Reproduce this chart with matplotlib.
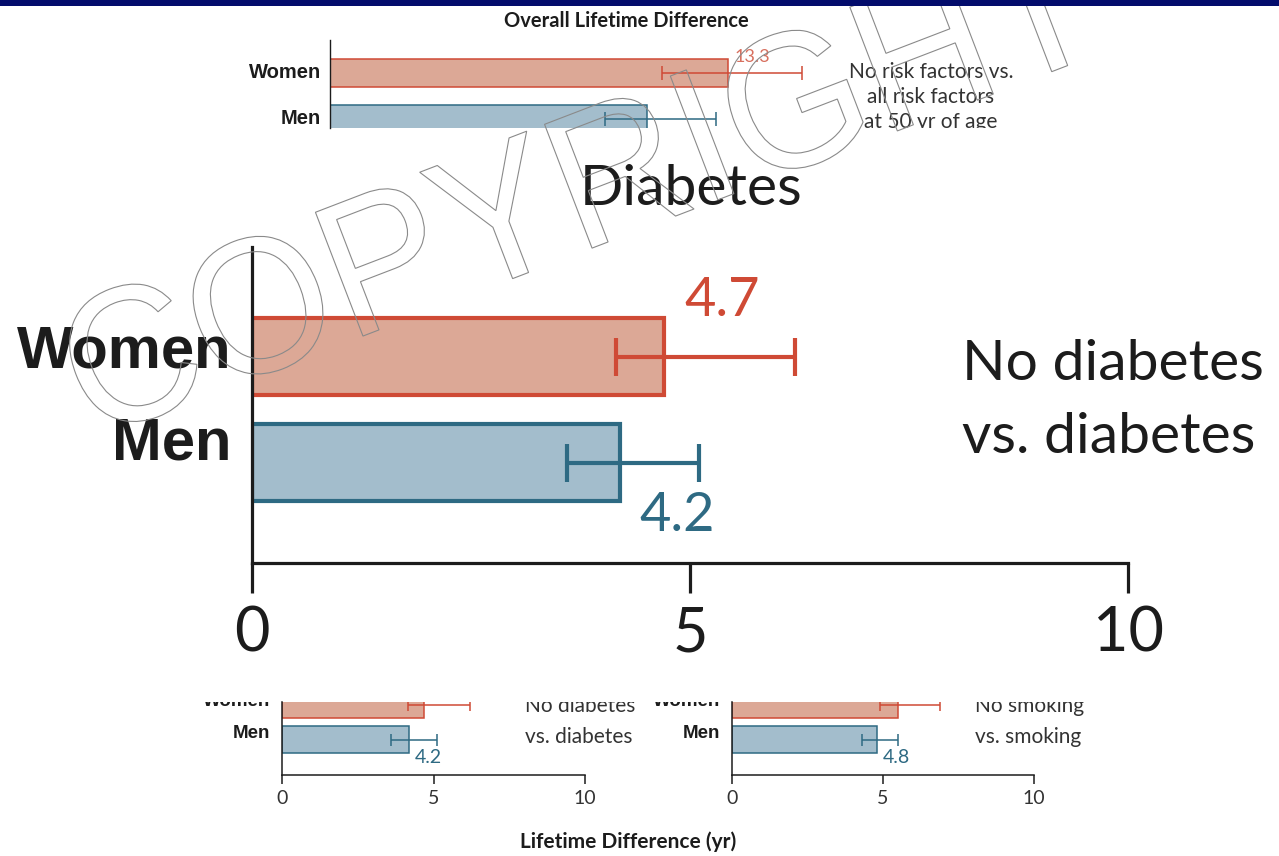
import matplotlib
matplotlib.use("Agg")
import numpy as np
import matplotlib.pyplot as plt
from matplotlib.patches import Rectangle, PathPatch
from matplotlib.textpath import TextPath
from matplotlib.font_manager import FontProperties
from matplotlib.transforms import Affine2D, Bbox, TransformedBbox, IdentityTransform

# ---- data -------------------------------------------------------------
groups = ["Women", "Men"]

overall_est = [13.3, 10.6]
overall_lo = [11.1, 9.2]
overall_hi = [15.8, 12.9]

diabetes_est = [4.7, 4.2]
diabetes_lo = [4.15, 3.6]
diabetes_hi = [6.2, 5.1]

smoking_est = [5.5, 4.8]
smoking_lo = [4.9, 4.3]
smoking_hi = [6.9, 5.5]

x_ticks = [0, 5, 10]

overall_title = "Overall Lifetime Difference"
overall_note = "No risk factors vs.\nall risk factors\nat 50 yr of age"
diabetes_title = "Diabetes"
diabetes_note = ["No diabetes", "vs. diabetes"]
smoking_note = ["No smoking", "vs. smoking"]
x_label = "Lifetime Difference (yr)"

# ---- style ------------------------------------------------------------
W, H, DPI = 1279, 856, 100
FILL = ["#dca896", "#a3bdcc"]
EDGE = ["#cf4a35", "#2e6a83"]
INK = "#1c1c1c"
SANS = "Lato"
BOLD = "Liberation Sans"

fig = plt.figure(figsize=(W / DPI, H / DPI), dpi=DPI)
fig.patch.set_facecolor("white")


def place_axes(left, right, top, bottom):
    return fig.add_axes([left / W, 1 - bottom / H, (right - left) / W, (bottom - top) / H])


def clip_below(artist, top_px):
    artist.set_clip_box(TransformedBbox(Bbox.from_extents(0, 0, 1, 1 - top_px / H), fig.transFigure))
    artist.set_clip_on(True)


def clip_above(artist, bottom_px):
    artist.set_clip_box(TransformedBbox(Bbox.from_extents(0, 1 - bottom_px / H, 1, 1), fig.transFigure))
    artist.set_clip_on(True)


def draw_bars(ax, est, lo, hi, bar_h, edge_lw, err_lw, cap):
    pos = np.arange(len(est))
    ax.barh(pos, est, height=bar_h, color=FILL, edgecolor=EDGE, linewidth=edge_lw, zorder=2)
    for i in pos:
        ax.errorbar(est[i], i, xerr=[[est[i] - lo[i]], [hi[i] - est[i]]], fmt="none",
                    ecolor=EDGE[i], elinewidth=err_lw, capsize=cap, capthick=err_lw, zorder=3)
    return pos


def style_axes(ax, lw, show_bottom=True):
    for side in ("top", "right"):
        ax.spines[side].set_visible(False)
    ax.spines["bottom"].set_visible(show_bottom)
    for side in ("left", "bottom"):
        ax.spines[side].set_linewidth(lw)
        ax.spines[side].set_color(INK)
    ax.set_yticks([])
    ax.patch.set_alpha(0)


# ---- top strip --------------------------------------------------------
fig.add_artist(Rectangle((0, 1 - 6 / H), 1, 6 / H, transform=fig.transFigure,
                         facecolor="#030c6c", edgecolor="none", zorder=20))

# ---- overall panel (cropped at the bottom) ----------------------------
ax_o = place_axes(330, 1279, 40, 128)
ax_o.set_xlim(0, (1279 - 330) / 29.9)
ax_o.set_ylim((128 - 73) / 46, (40 - 73) / 46)
draw_bars(ax_o, overall_est, overall_lo, overall_hi, 0.61, 1.1, 1.1, 4.7)
style_axes(ax_o, 1.0, show_bottom=False)
ax_o.set_xticks([])
for i, (g, dy) in enumerate(zip(groups, [0, 1])):
    ax_o.annotate(g, xy=(0, i), xytext=(-9, dy), textcoords="offset pixels", ha="right",
                  va="center", fontsize=14.5, fontweight="bold", family=BOLD, color=INK,
                  annotation_clip=False)
ax_o.annotate(f"{overall_est[0]}", xy=(overall_est[0], -0.305), xytext=(25, -3),
              textcoords="offset pixels", ha="center", va="baseline", fontsize=13,
              family=SANS, color="#d8705f")
ax_o.annotate(f"{overall_est[1]}", xy=(overall_est[1], 1.305), xytext=(22, -5),
              textcoords="offset pixels", ha="center", va="baseline", fontsize=13,
              family=SANS, color=EDGE[1], clip_on=True)
fig.text(626 / W, 1 - 27 / H, overall_title, ha="center", va="baseline", fontsize=14.5,
         fontweight="bold", family=SANS, color=INK)
for k, line in enumerate(overall_note.split("\n")):
    t = fig.text(931 / W, 1 - (78 + 25 * k) / H, line, ha="center", va="baseline",
                 fontsize=15, family=SANS, color="#333333")
    clip_above(t, 128)

# ---- enlarged diabetes panel -----------------------------------------
ax_d = place_axes(252, 1128, 247, 563)
ax_d.set_xlim(0, 10)
ax_d.set_ylim((563 - 356.5) / 106, (247 - 356.5) / 106)
draw_bars(ax_d, diabetes_est, diabetes_lo, diabetes_hi, 0.72, 3.0, 3.0, 13.5)
style_axes(ax_d, 2.3)
ax_d.set_xticks(x_ticks, [str(v) for v in x_ticks])
ax_d.tick_params(axis="x", length=21.5, width=2.3, pad=9, labelsize=44, color=INK,
                 labelcolor=INK)
for lab in ax_d.get_xticklabels():
    lab.set_family(SANS)
for i, (g, dy) in enumerate(zip(groups, [4, 19])):
    ax_d.annotate(g, xy=(0, i), xytext=(-20, dy), textcoords="offset pixels", ha="right",
                  va="center", fontsize=43, fontweight="bold", family=BOLD, color=INK,
                  annotation_clip=False)
ax_d.annotate(f"{diabetes_est[0]}", xy=(diabetes_est[0], -0.36), xytext=(58, 2),
              textcoords="offset pixels", ha="center", va="baseline", fontsize=39,
              family=SANS, color=EDGE[0])
ax_d.annotate(f"{diabetes_est[1]}", xy=(diabetes_est[1], 1.36), xytext=(57, -30),
              textcoords="offset pixels", ha="center", va="baseline", fontsize=39,
              family=SANS, color=EDGE[1])
fig.text(691 / W, 1 - 205 / H, diabetes_title, ha="center", va="baseline", fontsize=41,
         family=SANS, color=INK)
for k, line in enumerate(diabetes_note):
    fig.text(962 / W, 1 - (380 + 73 * k) / H, line, ha="left", va="baseline", fontsize=41,
             family=SANS, color=INK)

# ---- small panels (cropped at the top) -------------------------------
def small_panel(left, right, est, lo, hi, note, note_x):
    ax = place_axes(left, right, 702, 775)
    ax.set_xlim(0, 10)
    ax.set_ylim((775 - 704.5) / 35, (702 - 704.5) / 35)
    draw_bars(ax, est, lo, hi, 0.77, 1.1, 1.1, 4.3)
    style_axes(ax, 1.1)
    ax.set_xticks(x_ticks, [str(v) for v in x_ticks])
    ax.tick_params(axis="x", length=6.5, width=1.1, pad=4, labelsize=14, color=INK,
                   labelcolor="#333333")
    for lab in ax.get_xticklabels():
        lab.set_family(SANS)
    for i, (g, dy) in enumerate(zip(groups, [2.5, 6.5])):
        t = ax.annotate(g, xy=(0, i), xytext=(-12, dy), textcoords="offset pixels",
                        ha="right", va="center", fontsize=13.5, fontweight="bold",
                        family=BOLD, color=INK, annotation_clip=False)
        clip_below(t, 702)
    ax.annotate(f"{est[0]}", xy=(est[0], -0.385), xytext=(19, 3), textcoords="offset pixels",
                ha="center", va="baseline", fontsize=14, family=SANS, color=EDGE[0],
                clip_on=True)
    ax.annotate(f"{est[1]}", xy=(est[1], 1.385), xytext=(19, -10), textcoords="offset pixels",
                ha="center", va="baseline", fontsize=14, family=SANS, color=EDGE[1])
    for k, line in enumerate(note):
        t = fig.text(note_x / W, 1 - (712 + 31 * k) / H, line, ha="left", va="baseline",
                     fontsize=15, family=SANS, color="#333333")
        clip_below(t, 702)
    return ax


small_panel(282, 585, diabetes_est, diabetes_lo, diabetes_hi, diabetes_note, 525)
small_panel(732, 1034, smoking_est, smoking_lo, smoking_hi, smoking_note, 975)
fig.text(628 / W, 1 - 848 / H, x_label, ha="center", va="baseline", fontsize=15,
         fontweight="bold", family=SANS, color=INK)

# ---- watermark --------------------------------------------------------
wm = TextPath((0, 0), "COPYRIGHT", size=100, prop=FontProperties(family="Liberation Sans"))
ext = wm.get_extents()
sx = 1080 / ext.width
sy = 138 / 71.6
wm_tf = (Affine2D().translate(-ext.x0, 0).scale(sx, sy).rotate_deg(21)
         .translate(100, H - 437))
wm_patch = PathPatch(wm_tf.transform_path(wm), facecolor="none", edgecolor="#8a8a8a",
                     linewidth=0.8, transform=IdentityTransform(), zorder=15)
fig.add_artist(wm_patch)

fig.savefig("out.png", dpi=DPI, facecolor="white")
